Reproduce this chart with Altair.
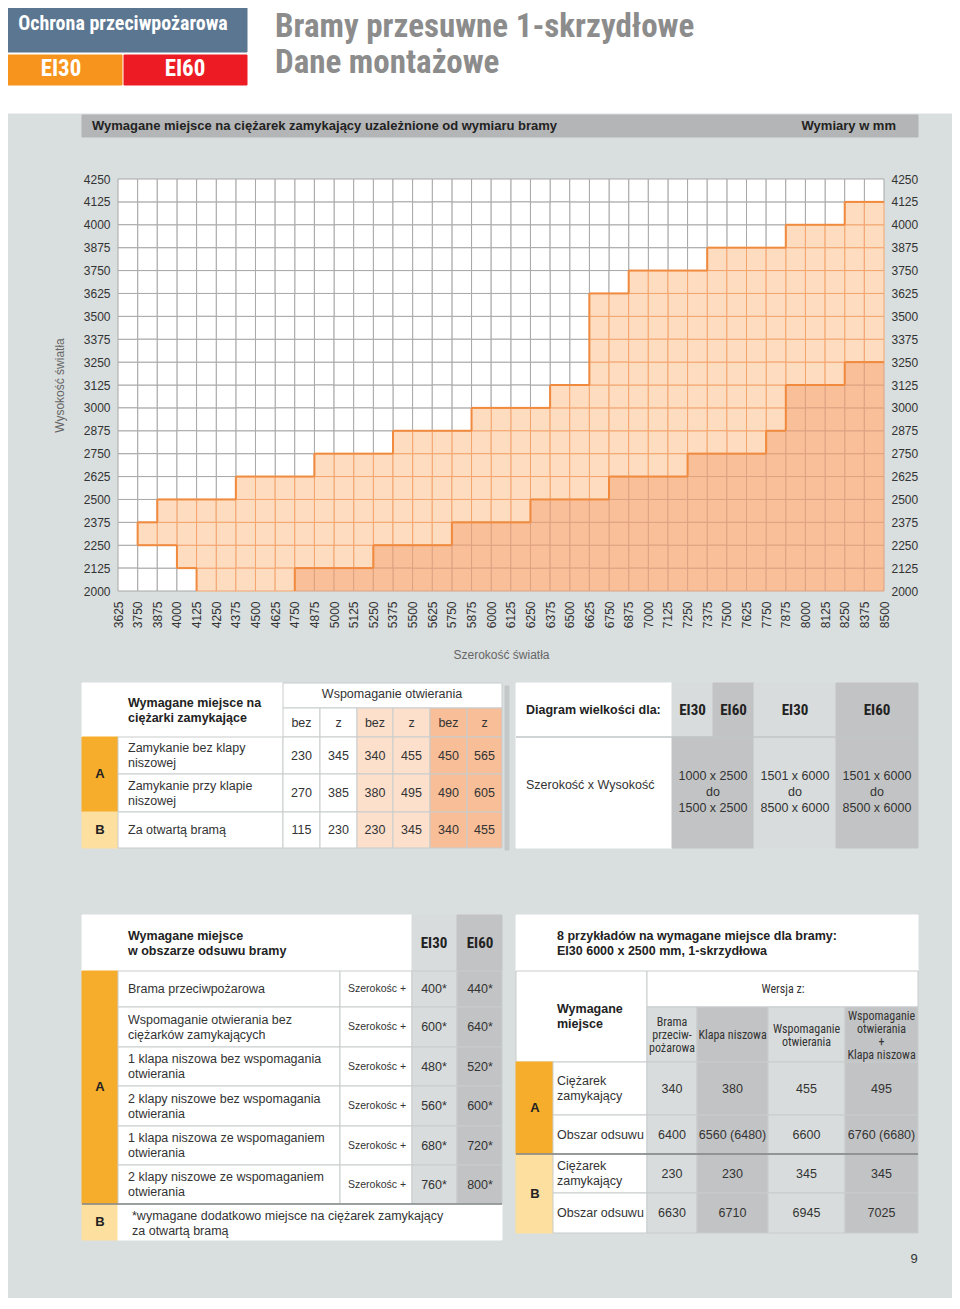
import altair as alt
import pandas as pd

# ---------------- data ----------------
WIDTH_TICKS = [3625, 3750, 3875, 4000, 4125, 4250, 4375, 4500, 4625, 4750,
               4875, 5000, 5125, 5250, 5375, 5500, 5625, 5750, 5875, 6000,
               6125, 6250, 6375, 6500, 6625, 6750, 6875, 7000, 7125, 7250,
               7375, 7500, 7625, 7750, 7875, 8000, 8125, 8250, 8375, 8500]
HEIGHT_TICKS = [2000, 2125, 2250, 2375, 2500, 2625, 2750, 2875, 3000, 3125,
                3250, 3375, 3500, 3625, 3750, 3875, 4000, 4125, 4250]

# per column (left edge = WIDTH_TICKS[i]) : light-zone bottom / top, medium-zone top
LIGHT_BOTTOM = [None, 2250, 2250, 2125, 2000, 2000, 2000, 2000, 2000, 2000,
                2000, 2000, 2000, 2000, 2000, 2000, 2000, 2000, 2000, 2000,
                2000, 2000, 2000, 2000, 2000, 2000, 2000, 2000, 2000, 2000,
                2000, 2000, 2000, 2000, 2000, 2000, 2000, 2000, 2000]
LIGHT_TOP = [None, 2375, 2500, 2500, 2500, 2500, 2625, 2625, 2625, 2625,
             2750, 2750, 2750, 2750, 2875, 2875, 2875, 2875, 3000, 3000,
             3000, 3000, 3125, 3125, 3625, 3625, 3750, 3750, 3750, 3750,
             3875, 3875, 3875, 3875, 4000, 4000, 4000, 4125, 4125]
MEDIUM_TOP = [None, None, None, None, None, None, None, None, None, 2125,
              2125, 2125, 2125, 2250, 2250, 2250, 2250, 2375, 2375, 2375,
              2375, 2500, 2500, 2500, 2500, 2625, 2625, 2625, 2625, 2750,
              2750, 2750, 2750, 2875, 3125, 3125, 3125, 3250, 3250]

T1_HEADER = "Wymagane miejsce na\nciężarki zamykające"
T1_GROUP = "Wspomaganie otwierania"
T1_SUB = ["bez", "z", "bez", "z", "bez", "z"]
T1_ROWS = ["Zamykanie bez klapy\nniszowej", "Zamykanie przy klapie\nniszowej", "Za otwartą bramą"]
T1_VALUES = [[230, 345, 340, 455, 450, 565],
             [270, 385, 380, 495, 490, 605],
             [115, 230, 230, 345, 340, 455]]

T2_HEADER = "Diagram wielkości dla:"
T2_CLASSES = ["EI30", "EI60", "EI30", "EI60"]
T2_ROW = "Szerokość x Wysokość"
T2_RANGES = ["1000 x 2500\ndo\n1500 x 2500", "1501 x 6000\ndo\n8500 x 6000", "1501 x 6000\ndo\n8500 x 6000"]

T3_HEADER = "Wymagane miejsce\nw obszarze odsuwu bramy"
T3_ROWS = ["Brama przeciwpożarowa",
           "Wspomaganie otwierania bez\nciężarków zamykających",
           "1 klapa niszowa bez wspomagania\notwierania",
           "2 klapy niszowe bez wspomagania\notwierania",
           "1 klapa niszowa ze wspomaganiem\notwierania",
           "2 klapy niszowe ze wspomaganiem\notwierania"]
T3_EI30 = ["400*", "600*", "480*", "560*", "680*", "760*"]
T3_EI60 = ["440*", "640*", "520*", "600*", "720*", "800*"]
T3_NOTE = "*wymagane dodatkowo miejsce na ciężarek zamykający\n  za otwartą bramą"

T4_HEADER = "8 przykładów na wymagane miejsce dla bramy:\nEI30 6000 x 2500 mm, 1-skrzydłowa"
T4_VERSIONS = ["Brama\nprzeciw-\npożarowa", "Klapa niszowa", "Wspomaganie\notwierania",
               "Wspomaganie\notwierania\n+\nKlapa niszowa"]
T4_ROWS = ["Ciężarek\nzamykający", "Obszar odsuwu", "Ciężarek\nzamykający", "Obszar odsuwu"]
T4_VALUES = [["340", "380", "455", "495"],
             ["6400", "6560 (6480)", "6600", "6760 (6680)"],
             ["230", "230", "345", "345"],
             ["6630", "6710", "6945", "7025"]]

# ---------------- style ----------------
BODY = "Liberation Sans, Arial, Helvetica, sans-serif"
COND = "Liberation Sans Narrow, Roboto Condensed, DejaVu Sans Condensed, Arial Narrow, sans-serif"
PAGE_BG = "#D9DEDE"
BAND = "#B4B5B6"
LIGHT_GRAY = "#D8DCDC"
DARK_GRAY = "#C2C3C4"
ORANGE_A = "#F6AD2B"
PALE_B = "#FDDFA0"
LINE = "#C9CCCC"
T_LIGHT = "#FCE0CC"
T_MED = "#F7BE98"
TXT = "#222222"

GROUPS = {
    "hdr": dict(font=COND, fontSize=20, fontWeight="bold", align="center"),
    "hdr_ei": dict(font=COND, fontSize=23, fontWeight="bold", align="center"),
    "title": dict(font=COND, fontSize=33, fontWeight="bold", align="left"),
    "band": dict(font=BODY, fontSize=13, fontWeight="bold", align="left"),
    "band_r": dict(font=BODY, fontSize=13, fontWeight="bold", align="right"),
    "pageno": dict(font=BODY, fontSize=13, fontWeight="normal", align="center"),
    "b_left": dict(font=BODY, fontSize=12.5, fontWeight="bold", align="left", lineHeight=15),
    "n_left": dict(font=BODY, fontSize=12.5, fontWeight="normal", align="left", lineHeight=15),
    "n_center": dict(font=BODY, fontSize=12.5, fontWeight="normal", align="center", lineHeight=15),
    "n_center16": dict(font=BODY, fontSize=12.5, fontWeight="normal", align="center", lineHeight=16),
    "b_center": dict(font=BODY, fontSize=13, fontWeight="bold", align="center"),
    "c_bold": dict(font=COND, fontSize=15, fontWeight="bold", align="center"),
    "c_norm": dict(font=COND, fontSize=12, fontWeight="normal", align="center"),
    "c_norm13": dict(font=COND, fontSize=12, fontWeight="normal", align="center", lineHeight=13),
    "small": dict(font=BODY, fontSize=10.5, fontWeight="normal", align="center"),
}

OX, OY = 118, 179  # page position of the plot area origin
PW, PH = 766, 412

rects, texts, rules = [], [], []


def cell(x0, y0, x1, y1, fill, stroke=LINE):
    rects.append(dict(x=x0 - OX, x2=x1 - OX, y=y0 - OY, y2=y1 - OY, f=fill, s=stroke))


def txt(group, x, y, t, c=TXT):
    n = t.count("\n") + 1
    lh = GROUPS[group].get("lineHeight", 15)
    texts.append(dict(g=group, x=x - OX, y=y - OY - (n - 1) * lh / 2, t=t, c=c))


def rule(x0, y0, x1, y1, c="#8A8C8C"):
    rules.append(dict(x=x0 - OX, x2=x1 - OX, y=y0 - OY, y2=y1 - OY, c=c))


# page background + header
cell(0, 0, 960, 114, "white", "white")
cell(0, 114, 960, 1320, PAGE_BG, PAGE_BG)
cell(0, 0, 247, 52, "#5B7690", "#5B7690")
cell(0, 55, 122, 85, "#F7941E", "#F7941E")
cell(124, 55, 247, 85, "#ED1C24", "#ED1C24")
txt("hdr", 123, 24, "Ochrona przeciwpożarowa", "white")
txt("hdr_ei", 61, 69, "EI30", "white")
txt("hdr_ei", 185, 69, "EI60", "white")
txt("title", 275, 27, "Bramy przesuwne 1-skrzydłowe", "#8C8C8C")
txt("title", 275, 63, "Dane montażowe", "#8C8C8C")
cell(82, 115, 918, 137, BAND, BAND)
txt("band", 92, 126, "Wymagane miejsce na ciężarek zamykający uzależnione od wymiaru bramy")
txt("band_r", 896, 126, "Wymiary w mm")
txt("pageno", 914, 1259, "9", "#333333")

# ---- table 1 ----
cell(505, 686, 509, 850, "#C4C8C8", "#C4C8C8")
cell(82, 683, 283, 737, "white", "white")
cell(283, 683, 502, 708, "white")
t1x = [283, 320, 357, 393, 430, 467, 502]
t1f = ["white", "white", T_LIGHT, T_LIGHT, T_MED, T_MED]
for k in range(6):
    cell(t1x[k], 708, t1x[k + 1], 737, t1f[k])
    txt("n_center", (t1x[k] + t1x[k + 1]) / 2, 723, T1_SUB[k], "#333333")
t1y = [737, 774, 812, 848]
cell(82, 737, 118, 812, ORANGE_A, ORANGE_A)
cell(82, 812, 118, 848, PALE_B, PALE_B)
for r in range(3):
    cell(118, t1y[r], 283, t1y[r + 1], "white")
    txt("n_left", 128, (t1y[r] + t1y[r + 1]) / 2, T1_ROWS[r], "#333333")
    for k in range(6):
        cell(t1x[k], t1y[r], t1x[k + 1], t1y[r + 1], t1f[k])
        txt("n_center", (t1x[k] + t1x[k + 1]) / 2, (t1y[r] + t1y[r + 1]) / 2, str(T1_VALUES[r][k]), "#333333")
txt("b_left", 128, 710, T1_HEADER)
txt("n_center", 392, 694, T1_GROUP, "#333333")
txt("b_center", 100, 774, "A")
txt("b_center", 100, 830, "B")

# ---- table 2 ----
cell(516, 683, 672, 737, "white", "white")
t2x = [672, 713, 754, 836, 918]
t2f = [LIGHT_GRAY, DARK_GRAY, LIGHT_GRAY, DARK_GRAY]
for k in range(4):
    cell(t2x[k], 683, t2x[k + 1], 737, t2f[k], t2f[k])
    txt("c_bold", (t2x[k] + t2x[k + 1]) / 2, 710, T2_CLASSES[k])
cell(516, 737, 672, 848, "white", "white")
t2bx = [672, 754, 836, 918]
t2bf = [DARK_GRAY, LIGHT_GRAY, DARK_GRAY]
for k in range(3):
    cell(t2bx[k], 737, t2bx[k + 1], 848, t2bf[k], t2bf[k])
    txt("n_center16", (t2bx[k] + t2bx[k + 1]) / 2, 792, T2_RANGES[k], "#333333")
rule(516, 737, 918, 737, "#C2C6C6")
txt("b_left", 526, 710, T2_HEADER)
txt("n_left", 526, 785, T2_ROW, "#333333")

# ---- table 3 ----
cell(82, 915, 412, 971, "white", "white")
cell(412, 915, 457, 971, LIGHT_GRAY, LIGHT_GRAY)
cell(457, 915, 502, 971, DARK_GRAY, DARK_GRAY)
txt("b_left", 128, 943, T3_HEADER)
txt("c_bold", 434, 943, "EI30")
txt("c_bold", 480, 943, "EI60")
t3y = [971, 1007, 1047, 1086, 1126, 1165, 1204]
cell(82, 971, 118, 1204, ORANGE_A, ORANGE_A)
cell(82, 1204, 118, 1240, PALE_B, PALE_B)
for r in range(6):
    ym = (t3y[r] + t3y[r + 1]) / 2
    cell(118, t3y[r], 340, t3y[r + 1], "white")
    cell(340, t3y[r], 412, t3y[r + 1], "white")
    cell(412, t3y[r], 457, t3y[r + 1], LIGHT_GRAY)
    cell(457, t3y[r], 502, t3y[r + 1], DARK_GRAY)
    txt("n_left", 128, ym, T3_ROWS[r], "#333333")
    txt("small", 377, ym, "Szerokośc +", "#333333")
    txt("n_center", 434, ym, T3_EI30[r], "#333333")
    txt("n_center", 480, ym, T3_EI60[r], "#333333")
cell(118, 1204, 502, 1240, "white", "white")
rule(82, 1204, 502, 1204, "#7E8282")
txt("n_left", 132, 1223, T3_NOTE, "#333333")
txt("b_center", 100, 1087, "A")
txt("b_center", 100, 1222, "B")

# ---- table 4 ----
cell(516, 915, 918, 971, "white", "white")
txt("b_left", 557, 943, T4_HEADER)
cell(516, 971, 647, 1062, "white", LINE)
cell(647, 971, 918, 1007, "white", LINE)
txt("b_left", 557, 1016, "Wymagane\nmiejsce")
txt("c_norm", 783, 989, "Wersja z:", "#333333")
t4x = [647, 697, 768, 845, 918]
t4f = [LIGHT_GRAY, DARK_GRAY, LIGHT_GRAY, DARK_GRAY]
for k in range(4):
    cell(t4x[k], 1007, t4x[k + 1], 1062, t4f[k])
    txt("c_norm13", (t4x[k] + t4x[k + 1]) / 2, 1035, T4_VERSIONS[k], "#333333")
t4y = [1062, 1115, 1154, 1193, 1233]
cell(516, 1062, 553, 1154, ORANGE_A, ORANGE_A)
cell(516, 1154, 553, 1233, PALE_B, PALE_B)
for r in range(4):
    ym = (t4y[r] + t4y[r + 1]) / 2
    cell(553, t4y[r], 647, t4y[r + 1], "white")
    txt("n_left", 557, ym, T4_ROWS[r], "#333333")
    for k in range(4):
        cell(t4x[k], t4y[r], t4x[k + 1], t4y[r + 1], t4f[k])
        txt("n_center", (t4x[k] + t4x[k + 1]) / 2, ym, T4_VALUES[r][k], "#333333")
rule(516, 1154, 918, 1154, "#7E8282")
txt("b_center", 535, 1108, "A")
txt("b_center", 535, 1194, "B")

rect_df = pd.DataFrame(rects)
text_df = pd.DataFrame(texts)
rule_df = pd.DataFrame(rules)

# ---------------- grid cells ----------------
order = {"white": 0, "light": 1, "medium": 2}
cells = []
cat = {}
for i in range(len(WIDTH_TICKS) - 1):
    for j in range(len(HEIGHT_TICKS) - 1):
        y0, y1 = HEIGHT_TICKS[j], HEIGHT_TICKS[j + 1]
        if MEDIUM_TOP[i] is not None and y1 <= MEDIUM_TOP[i]:
            c = "medium"
        elif LIGHT_TOP[i] is not None and y0 >= LIGHT_BOTTOM[i] and y1 <= LIGHT_TOP[i]:
            c = "light"
        else:
            c = "white"
        cat[(i, j)] = c
        cells.append(dict(x0=WIDTH_TICKS[i], x1=WIDTH_TICKS[i + 1], y0=y0, y1=y1, cat=c, o=order[c]))
cells_df = pd.DataFrame(cells).sort_values("o")
FILL = {"white": "#FFFFFF", "light": "#FDDCC0", "medium": "#F9BF98"}
STROKE = {"white": "#A8A8A8", "light": "#F3A56F", "medium": "#DDA283"}
cells_df["fill"] = cells_df["cat"].map(FILL)
cells_df["stroke"] = cells_df["cat"].map(STROKE)

edges = []
ni, nj = len(WIDTH_TICKS) - 1, len(HEIGHT_TICKS) - 1
for i in range(ni):
    for j in range(1, nj):
        if cat[(i, j)] != cat[(i, j - 1)]:
            edges.append(dict(x=WIDTH_TICKS[i], x2=WIDTH_TICKS[i + 1], y=HEIGHT_TICKS[j], y2=HEIGHT_TICKS[j]))
for i in range(1, ni):
    for j in range(nj):
        if cat[(i, j)] != cat[(i - 1, j)]:
            edges.append(dict(x=WIDTH_TICKS[i], x2=WIDTH_TICKS[i], y=HEIGHT_TICKS[j], y2=HEIGHT_TICKS[j + 1]))
edges_df = pd.DataFrame(edges)

xs = alt.Scale(domain=[WIDTH_TICKS[0], WIDTH_TICKS[-1]], nice=False, zero=False)
ys = alt.Scale(domain=[HEIGHT_TICKS[0], HEIGHT_TICKS[-1]], nice=False, zero=False)

x_axis = alt.Axis(values=WIDTH_TICKS, format="d", labelAngle=-90, ticks=False, tickSize=0, domain=False,
                  grid=False, labelPadding=10, labelFontSize=12, labelColor="#333333", labelFont=BODY,
                  title="Szerokość światła", titleFont=BODY, titleFontSize=12, titleFontWeight="normal",
                  titleColor="#666666", titlePadding=22, labelOverlap=False, zindex=2)
y_axis_l = alt.Axis(values=HEIGHT_TICKS, format="d", ticks=False, tickSize=0, domain=False, grid=False,
                    labelPadding=8, labelFontSize=12, labelColor="#333333", labelFont=BODY,
                    title="Wysokość światła", titleFont=BODY, titleFontSize=12, titleFontWeight="normal",
                    titleColor="#666666", titlePadding=17, labelOverlap=False, zindex=2)
y_axis_r = alt.Axis(values=HEIGHT_TICKS, format="d", orient="right", ticks=False, tickSize=0, domain=False,
                    grid=False, labelPadding=7, labelFontSize=12, labelColor="#333333", labelFont=BODY,
                    title=None, labelOverlap=False, zindex=2)

bg = alt.Chart(rect_df).mark_rect(strokeWidth=1).encode(
    x=alt.X("x:Q", scale=None), x2="x2:Q", y=alt.Y("y:Q", scale=None), y2="y2:Q",
    fill=alt.Fill("f:N", scale=None), stroke=alt.Stroke("s:N", scale=None))

lines = alt.Chart(rule_df).mark_rule(strokeWidth=1.5).encode(
    x=alt.X("x:Q", scale=None), x2="x2:Q", y=alt.Y("y:Q", scale=None), y2="y2:Q",
    color=alt.Color("c:N", scale=None))

grid = alt.Chart(cells_df).mark_rect(strokeWidth=1).encode(
    x=alt.X("x0:Q", scale=xs, axis=x_axis), x2="x1:Q",
    y=alt.Y("y0:Q", scale=ys, axis=y_axis_l), y2="y1:Q",
    fill=alt.Fill("fill:N", scale=None), stroke=alt.Stroke("stroke:N", scale=None))

right_axis = alt.Chart(cells_df).mark_rect(opacity=0).encode(
    y=alt.Y("y0:Q", scale=ys, axis=y_axis_r), y2="y1:Q")

border = alt.Chart(edges_df).mark_rule(strokeWidth=2, color="#F08A3E").encode(
    x=alt.X("x:Q", scale=xs, axis=x_axis), x2="x2:Q",
    y=alt.Y("y:Q", scale=ys, axis=None), y2="y2:Q")

text_layers = []
for g, kw in GROUPS.items():
    sub = text_df[text_df["g"] == g]
    if len(sub) == 0:
        continue
    text_layers.append(
        alt.Chart(sub).mark_text(baseline="middle", lineBreak="\n", **kw).encode(
            x=alt.X("x:Q", scale=None), y=alt.Y("y:Q", scale=None), text="t:N",
            color=alt.Color("c:N", scale=None)))

chart = alt.layer(bg, grid, border, right_axis, lines, *text_layers).resolve_axis(
    y="independent"
).properties(
    width=PW, height=PH,
    padding={"left": 110, "top": 171, "right": 944 - 110 - PW, "bottom": 1290 - 171 - PH},
    autosize=alt.AutoSizeParams(type="none"),
    background="white",
).configure_view(stroke=None)

chart.save("out.html", embed_options={"renderer": "svg", "actions": False})
